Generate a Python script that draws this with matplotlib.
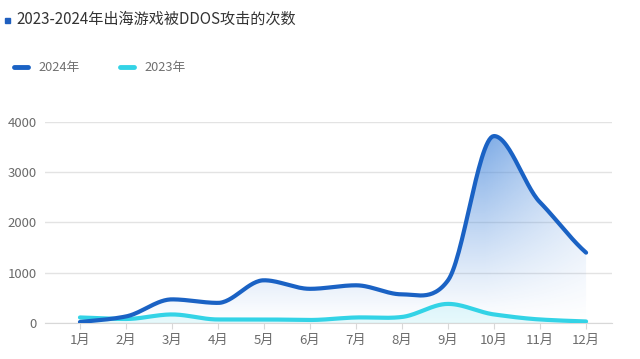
import numpy as np
import matplotlib
matplotlib.use('Agg')
import matplotlib.pyplot as plt
from matplotlib.patches import Polygon, Rectangle
from matplotlib.lines import Line2D

plt.rcParams['font.family'] = ['Noto Sans CJK SC', 'DejaVu Sans']

months = ['1月', '2月', '3月', '4月', '5月', '6月', '7月', '8月', '9月', '10月', '11月', '12月']
attacks_2024 = [20, 130, 470, 400, 850, 680, 750, 570, 850, 3720, 2400, 1400]
attacks_2023 = [110, 80, 170, 70, 70, 60, 110, 120, 380, 170, 70, 30]
yticks = [0, 1000, 2000, 3000, 4000]

c2024 = '#1a62c4'
c2023 = '#33d3e6'


def smooth(xs, ys, n=30):
    # catmull-rom style curve through the points, like echarts smooth lines
    xs = np.asarray(xs, float)
    ys = np.asarray(ys, float)
    px, py = [], []
    for i in range(len(xs) - 1):
        x0, x1 = xs[i], xs[i + 1]
        y0, y1 = ys[i], ys[i + 1]
        ym = ys[i - 1] if i > 0 else y0
        yp = ys[i + 2] if i + 2 < len(ys) else y1
        m0 = (y1 - ym) / (2 if i > 0 else 1) * 0.8
        m1 = (yp - y0) / (2 if i + 2 < len(ys) else 1) * 0.8
        # keep peaks flat
        if i > 0 and (y0 - ym) * (y1 - y0) <= 0:
            m0 = 0
        if i + 2 < len(ys) and (y1 - y0) * (yp - y1) <= 0:
            m1 = 0
        t = np.linspace(0, 1, n, endpoint=False)
        h00 = 2 * t**3 - 3 * t**2 + 1
        h10 = t**3 - 2 * t**2 + t
        h01 = -2 * t**3 + 3 * t**2
        h11 = t**3 - t**2
        px.extend(x0 + t * (x1 - x0))
        py.extend(h00 * y0 + h10 * m0 + h01 * y1 + h11 * m1)
    px.append(xs[-1])
    py.append(ys[-1])
    return np.array(px), np.array(py)


fig = plt.figure(figsize=(6.4, 3.59), dpi=100)
ax = fig.add_axes([0.0703, 0.1003, 0.8857, 0.5599])

x = np.arange(1, len(months) + 1)
sx24, sy24 = smooth(x, attacks_2024)
sx23, sy23 = smooth(x, attacks_2023)

ax.set_xlim(0.24, 12.56)
ax.set_ylim(0, 4000)

# gradient fill under the 2024 line
grad = np.zeros((200, 200, 4))
rgb = matplotlib.colors.to_rgb('#4f8ddd')
gy = np.linspace(0, 1, 200)[:, None]
gx = np.linspace(0, 1, 200)[None, :]
grad[..., 0], grad[..., 1], grad[..., 2] = rgb
grad[..., 3] = np.clip(0.75 * gy ** 1.1 * (1 - 0.6 * np.clip(gx - 0.8, 0, 1) / 0.2), 0, 1)
im = ax.imshow(grad, extent=[1, 12, 0, 3750], origin='lower', aspect='auto', zorder=1)
poly = Polygon(np.column_stack([np.r_[sx24, sx24[-1], sx24[0]], np.r_[sy24, 0, 0]]),
               closed=True, transform=ax.transData, facecolor='none', edgecolor='none')
ax.add_patch(poly)
im.set_clip_path(poly)

ax.fill_between(sx23, sy23, 0, color=c2023, alpha=0.12, lw=0, zorder=1)

ax.plot(sx23, sy23, color=c2023, lw=3, solid_capstyle='round', zorder=3)
ax.plot(sx24, sy24, color=c2024, lw=3, solid_capstyle='round', zorder=4)

ax.set_yticks(yticks)
ax.set_yticklabels([str(v) for v in yticks])
ax.set_xticks(x)
ax.set_xticklabels(months)
ax.grid(axis='y', color='#e3e3e3', lw=1)
ax.set_axisbelow(True)
for s in ['top', 'right', 'left']:
    ax.spines[s].set_visible(False)
ax.spines['bottom'].set_color('#d8d8d8')
ax.tick_params(axis='y', length=0, labelsize=9.5, labelcolor='#6b6b6b', pad=6)
ax.tick_params(axis='x', length=4, color='#d8d8d8', labelsize=9.5, labelcolor='#6b6b6b', pad=4)

# title with square marker
fig.patches.append(Rectangle((5 / 640, 1 - 23 / 359), 5 / 640, 5 / 359,
                             transform=fig.transFigure, color='#1f5fbf'))
fig.text(16 / 640, 1 - 19 / 359, '2023-2024年出海游戏被DDOS攻击的次数',
         fontsize=10.9, color='#333333', va='center', ha='left')

# legend
fig.lines.append(Line2D([14 / 640, 28 / 640], [1 - 67 / 359] * 2, transform=fig.transFigure,
                        color=c2024, lw=3.5, solid_capstyle='round'))
fig.text(38 / 640, 1 - 67 / 359, '2024年', fontsize=9.2, color='#707070', va='center')
fig.lines.append(Line2D([120 / 640, 134 / 640], [1 - 67 / 359] * 2, transform=fig.transFigure,
                        color=c2023, lw=3.5, solid_capstyle='round'))
fig.text(144 / 640, 1 - 67 / 359, '2023年', fontsize=9.2, color='#707070', va='center')

fig.savefig('out.png', dpi=100)
